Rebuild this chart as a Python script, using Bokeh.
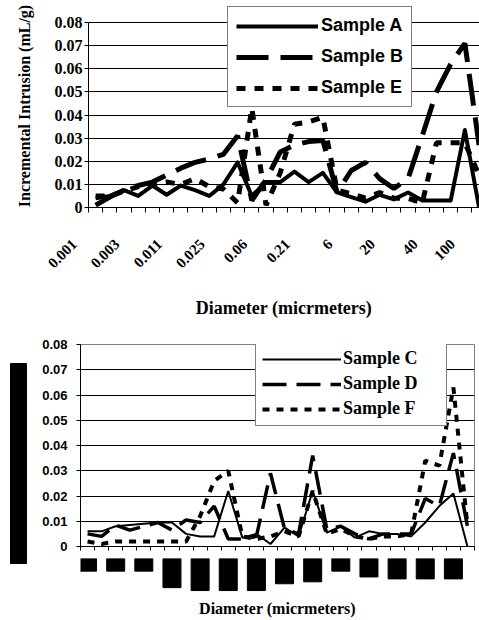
import math
from bokeh.plotting import figure
from bokeh.models import Range1d, FixedTicker, Legend, LegendItem, ColumnDataSource
from bokeh.layouts import column, row
from bokeh.embed import file_html
from bokeh.resources import INLINE

# ---------------- data ----------------
categories = list(range(28))                      # diameter classes (category axis)
top_tick_idx = [0, 3, 6, 9, 12, 15, 18, 21, 24, 27]
top_tick_labels = ["0.001", "0.003", "0.011", "0.025", "0.06", "0.21", "6", "20", "40", "100"]
y_ticks = [0.0, 0.01, 0.02, 0.03, 0.04, 0.05, 0.06, 0.07, 0.08]
y_tick_labels = ["0", "0.01", "0.02", "0.03", "0.04", "0.05", "0.06", "0.07", "0.08"]

sample_a = [0.004, 0.005, 0.0075, 0.005, 0.0095, 0.0055, 0.0095, 0.0075, 0.005, 0.010,
            0.0195, 0.005, 0.011, 0.011, 0.0155, 0.011, 0.015, 0.0065, 0.0045, 0.0025,
            0.0055, 0.0035, 0.0065, 0.003, 0.003, 0.003, 0.0335, 0.0]
sample_b = [0.001, 0.0045, 0.0075, 0.0095, 0.011, 0.014, 0.017, 0.0195, 0.021, 0.023,
            0.031, 0.003, 0.012, 0.024, 0.027, 0.0285, 0.029, 0.0065, 0.016, 0.0195,
            0.0125, 0.0082, 0.0125, 0.031, 0.050, 0.062, 0.071, 0.027]
sample_e = [0.005, 0.005, 0.007, 0.009, 0.010, 0.011, 0.010, 0.0125, 0.009, 0.008,
            0.002, 0.043, 0.001, 0.015, 0.036, 0.037, 0.039, 0.0075, 0.006, 0.004,
            0.0065, 0.004, 0.004, 0.002, 0.028, 0.028, 0.028, 0.014]

sample_c = [0.006, 0.006, 0.008, 0.0085, 0.009, 0.0095, 0.0095, 0.005, 0.004, 0.004,
            0.022, 0.0035, 0.005, 0.001, 0.0075, 0.004, 0.022, 0.0055, 0.008, 0.0035,
            0.006, 0.005, 0.005, 0.004, 0.0095, 0.016, 0.021, 0.0]
sample_d = [0.005, 0.004, 0.0085, 0.0065, 0.008, 0.0095, 0.0065, 0.0105, 0.0095, 0.016,
            0.003, 0.003, 0.004, 0.029, 0.007, 0.005, 0.036, 0.007, 0.008, 0.005,
            0.003, 0.005, 0.005, 0.005, 0.019, 0.016, 0.037, 0.008]
sample_f = [0.002, 0.001, 0.002, 0.002, 0.002, 0.002, 0.002, 0.002, 0.012, 0.026,
            0.030, 0.004, 0.003, 0.004, 0.006, 0.004, 0.022, 0.005, 0.007, 0.004,
            0.003, 0.004, 0.004, 0.005, 0.034, 0.032, 0.063, 0.008]

# blacked-out tick labels under the lower chart (every second class)
masked_label_idx = [0, 2, 4, 6, 8, 10, 12, 14, 16, 18, 20, 22, 24, 26]
masked_label_len = [13, 13, 13, 30, 33, 33, 33, 26, 24, 13, 19, 21, 21, 21]

boundaries = [c - 0.5 for c in categories] + [27.5]
SERIF = "Liberation Serif"
SANS = "Liberation Sans"
PAD = "\u2002" * 4   # keeps the rotated labels clear of the tick, as in the original

# ---------------- top chart ----------------
# frame reaches a little above 0.08 so the legend box can overlap the top edge as in the original
Y_TOP = 0.08 * 203.0 / 185.0
p1 = figure(width=471, height=330, output_backend="svg", toolbar_location=None,
            x_range=Range1d(-0.5, 27.03), y_range=Range1d(0, Y_TOP),
            min_border_left=80, min_border_right=0, min_border_top=4, min_border_bottom=123)
p1.outline_line_color = None
p1.xgrid.visible = False
p1.ygrid.grid_line_color = "black"
p1.ygrid.grid_line_width = 1

src1 = ColumnDataSource(dict(x=categories, a=sample_a, b=sample_b, e=sample_e))
ra = p1.line("x", "a", source=src1, line_color="black", line_width=4, line_join="round")
rb = p1.line("x", "b", source=src1, line_color="black", line_width=5, line_dash="32 12")
re_ = p1.line("x", "e", source=src1, line_color="black", line_width=5, line_dash="9 9")

xa = p1.xaxis[0]
xa.ticker = FixedTicker(ticks=top_tick_idx, minor_ticks=boundaries)
xa.major_label_overrides = {i: l + PAD for i, l in zip(top_tick_idx, top_tick_labels)}
xa.major_label_orientation = math.pi / 4
xa.major_tick_line_color = None
xa.major_tick_out = 5
xa.minor_tick_out = 5
xa.minor_tick_in = 0
xa.minor_tick_line_color = "black"
xa.axis_line_color = "black"
xa.major_label_text_font = SERIF
xa.major_label_text_font_style = "bold"
xa.major_label_text_font_size = "15px"
xa.major_label_text_color = "black"
xa.major_label_standoff = 8
xa.axis_label = "Diameter (micrmeters)"
xa.axis_label_text_font = SERIF
xa.axis_label_text_font_style = "bold"
xa.axis_label_text_font_size = "18px"
xa.axis_label_text_color = "black"
xa.axis_label_standoff = 18

ya = p1.yaxis[0]
ya.ticker = FixedTicker(ticks=y_ticks)
ya.bounds = (0, 0.08)
ya.major_label_overrides = dict(zip(y_ticks, y_tick_labels))
ya.major_tick_out = 4
ya.major_tick_in = 0
ya.minor_tick_line_color = None
ya.axis_line_color = "black"
ya.major_label_standoff = 2
ya.major_label_text_font = SERIF
ya.major_label_text_font_style = "bold"
ya.major_label_text_font_size = "16px"
ya.major_label_text_color = "black"
ya.axis_label = "Incremental Intrusion (mL/g)"
ya.axis_label_text_font = SERIF
ya.axis_label_text_font_style = "bold"
ya.axis_label_text_font_size = "16px"
ya.axis_label_text_color = "black"
ya.axis_label_standoff = 19

leg1 = Legend(items=[LegendItem(label="Sample A", renderers=[ra]),
                     LegendItem(label="Sample B", renderers=[rb]),
                     LegendItem(label="Sample E", renderers=[re_])],
              location=(139, 100), orientation="vertical",
              glyph_width=82, glyph_height=20, label_height=20, label_standoff=3,
              padding=8, spacing=10, margin=0,
              label_text_font=SANS, label_text_font_style="bold",
              label_text_font_size="18px", label_text_color="black",
              border_line_color="black", border_line_width=1,
              background_fill_color="white", background_fill_alpha=1.0)
p1.add_layout(leg1)

# ---------------- bottom chart ----------------
p2 = figure(width=449, height=228, output_backend="svg", toolbar_location=None,
            x_range=Range1d(-0.5, 27.5), y_range=Range1d(0, 0.08),
            min_border_left=50, min_border_right=5, min_border_top=14, min_border_bottom=12)
p2.outline_line_color = "#808080"
p2.xgrid.visible = False
p2.ygrid.grid_line_color = "black"

src2 = ColumnDataSource(dict(x=categories, c=sample_c, d=sample_d, f=sample_f))
rc = p2.line("x", "c", source=src2, line_color="black", line_width=2)
rd = p2.line("x", "d", source=src2, line_color="black", line_width=3.5, line_dash="24 10")
rf = p2.line("x", "f", source=src2, line_color="black", line_width=4, line_dash="7 7")

xb = p2.xaxis[0]
xb.ticker = FixedTicker(ticks=[], minor_ticks=boundaries)
xb.major_tick_out = 4
xb.major_tick_in = 0
xb.minor_tick_out = 4
xb.minor_tick_in = 0
xb.minor_tick_line_color = "black"
xb.axis_line_color = "black"
xb.major_label_standoff = 0

yb = p2.yaxis[0]
yb.ticker = FixedTicker(ticks=y_ticks)
yb.major_label_overrides = dict(zip(y_ticks, y_tick_labels))
yb.major_tick_out = 4
yb.major_tick_in = 0
yb.minor_tick_line_color = None
yb.axis_line_color = "black"
yb.major_label_standoff = 9
yb.major_label_text_font = SANS
yb.major_label_text_font_style = "bold"
yb.major_label_text_font_size = "13px"
yb.major_label_text_color = "black"

leg2 = Legend(items=[LegendItem(label="Sample C", renderers=[rc]),
                     LegendItem(label="Sample D", renderers=[rd]),
                     LegendItem(label="Sample F", renderers=[rf])],
              location=(175, 120), orientation="vertical",
              glyph_width=79, glyph_height=20, label_height=20, label_width=97,
              label_standoff=2, padding=6, spacing=4, margin=0,
              label_text_font=SERIF, label_text_font_style="bold",
              label_text_font_size="18px", label_text_color="black",
              border_line_color="black", border_line_width=1,
              background_fill_color="white", background_fill_alpha=1.0)
p2.add_layout(leg2)

# strip with the blacked-out category labels and the axis title
p3 = figure(width=449, height=61, output_backend="svg", toolbar_location=None,
            x_range=p2.x_range, y_range=Range1d(35, 0),
            min_border_left=50, min_border_right=5, min_border_top=0, min_border_bottom=26)
p3.outline_line_color = None
p3.grid.visible = False
p3.yaxis.visible = False
xc = p3.xaxis[0]
xc.ticker = FixedTicker(ticks=[])
xc.axis_line_color = None
xc.major_tick_line_color = None
xc.minor_tick_line_color = None
xc.major_tick_out = 0
xc.major_label_standoff = 0
xc.axis_label = "Diameter (micrmeters)"
xc.axis_label_text_font = SERIF
xc.axis_label_text_font_style = "bold"
xc.axis_label_text_font_size = "16px"
xc.axis_label_text_color = "black"
xc.axis_label_standoff = 7
src3 = ColumnDataSource(dict(left=[i - 0.64 for i in masked_label_idx],
                             right=[i + 0.64 for i in masked_label_idx],
                             top=[0] * len(masked_label_idx),
                             bottom=masked_label_len))
p3.quad(left="left", right="right", top="top", bottom="bottom", source=src3,
        fill_color="black", line_color="black")

# blacked-out y-axis title of the lower chart
p0 = figure(width=22, height=289, output_backend="svg", toolbar_location=None,
            x_range=Range1d(0, 22), y_range=Range1d(289, 0),
            min_border_left=0, min_border_right=0, min_border_top=0, min_border_bottom=0)
p0.axis.visible = False
p0.grid.visible = False
p0.outline_line_color = None
p0.quad(left=[2], right=[18], top=[33], bottom=[233], fill_color="black", line_color="black")

layout = column(p1, row(p0, column(p2, p3)), margin=(0, 0, 0, 8))
open("out.html", "w").write(file_html(layout, INLINE))
